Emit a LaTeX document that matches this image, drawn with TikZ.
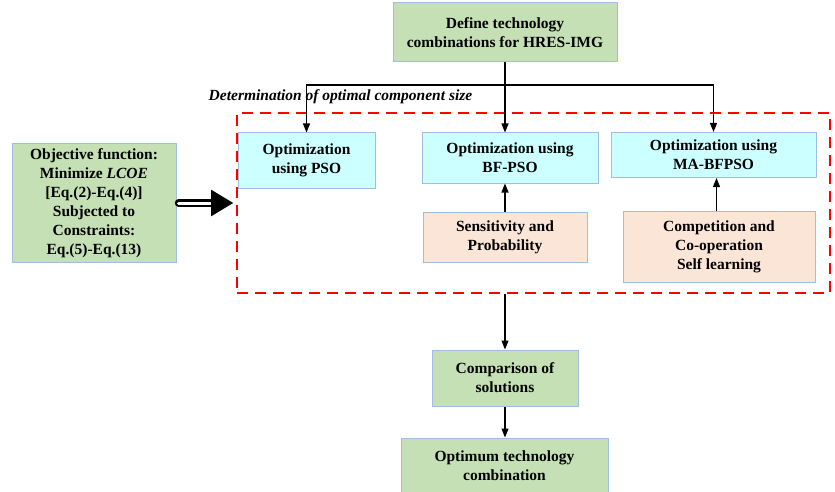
\documentclass[tikz,border=0pt]{standalone}
\usepackage{fontspec}
\setmainfont{Liberation Serif}
\usetikzlibrary{arrows.meta}

\definecolor{boxgreen}{RGB}{197,224,180}
\definecolor{boxcyan}{RGB}{204,255,255}
\definecolor{boxpeach}{RGB}{251,229,214}
\definecolor{boxline}{RGB}{160,190,222}

\tikzset{
    box/.style={draw=boxline, line width=1pt, align=center, inner sep=2pt,
        font=\fontsize{15.5}{19}\selectfont\bfseries},
    greenbox/.style={box, fill=boxgreen},
    cyanbox/.style={box, fill=boxcyan},
    peachbox/.style={box, fill=boxpeach},
    link/.style={line width=1.1pt, -{Triangle[length=9pt,width=7pt]}}
}

\begin{document}
\begin{tikzpicture}[x=1pt, y=-1pt]
    % Canvas: 835 x 492, pixel coordinates
    \useasboundingbox (0,0) rectangle (835,492);

    % Top box
    \node[greenbox, minimum width=224, minimum height=59] (define) at (505,32.5)
        {Define technology\\combinations for HRES-IMG};

    % Dashed frame and its title
    \node[draw=red, dash pattern=on 11pt off 7pt, line width=1.6pt,
        minimum width=593, minimum height=180] (frame) at (533.5,203) {};
    \node[font=\fontsize{15.5}{18}\selectfont\bfseries\itshape] (title) at (340.5,97)
        {Determination of optimal component size};

    % Optimization methods
    \node[cyanbox, minimum width=137, minimum height=55] (pso) at (306.5,160.5)
        {Optimization\\using PSO};
    \node[cyanbox, minimum width=176, minimum height=50] (bfpso) at (510,158)
        {Optimization using\\BF-PSO};
    \node[cyanbox, minimum width=205, minimum height=45] (mabfpso) at (713.5,155)
        {Optimization using\\MA-BFPSO};

    % Features
    \node[peachbox, minimum width=164, minimum height=50] (sens) at (505,237)
        {Sensitivity and\\Probability};
    \node[peachbox, minimum width=192, minimum height=71] (comp) at (719,246.5)
        {Competition and\\Co-operation\\Self learning};

    % Objective
    \node[greenbox, minimum width=164, minimum height=118] (obj) at (94,203)
        {Objective function:\\Minimize \textit{LCOE}\\{}[Eq.(2)-Eq.(4)]\\Subjected to\\Constraints:\\Eq.(5)-Eq.(13)};

    % Results
    \node[greenbox, minimum width=146, minimum height=56] (compare) at (505,378)
        {Comparison of\\solutions};
    \node[greenbox, minimum width=207, minimum height=56] (optimum) at (504.5,466)
        {Optimum technology\\combination};

    % Branch from top box
    \coordinate (split) at (505,85);
    \draw[line width=1.1pt] (define.south) -- (split);
    \draw[link] (split) -- (split |- bfpso.north);
    \draw[link] (split) -| (pso.north);
    \draw[link] (split) -| (mabfpso.north);

    % Feature arrows
    \draw[link] (sens.north) -- (sens.north |- bfpso.south);
    \draw[link] (comp.north -| mabfpso.south) ++(3,0) coordinate (cup) -- (cup |- mabfpso.south);

    % Objective into frame
    \draw[double=white, double distance=3pt, line width=2.2pt, line cap=round,
        -{Triangle[length=22pt,width=26pt]}, shorten >=3pt] (obj.east) ++(2,0) -- (frame.west);

    % Down to results
    \draw[link] (frame.south -| split) -- (compare.north);
    \draw[link] (compare.south) -- (compare.south |- optimum.north);
\end{tikzpicture}
\end{document}
